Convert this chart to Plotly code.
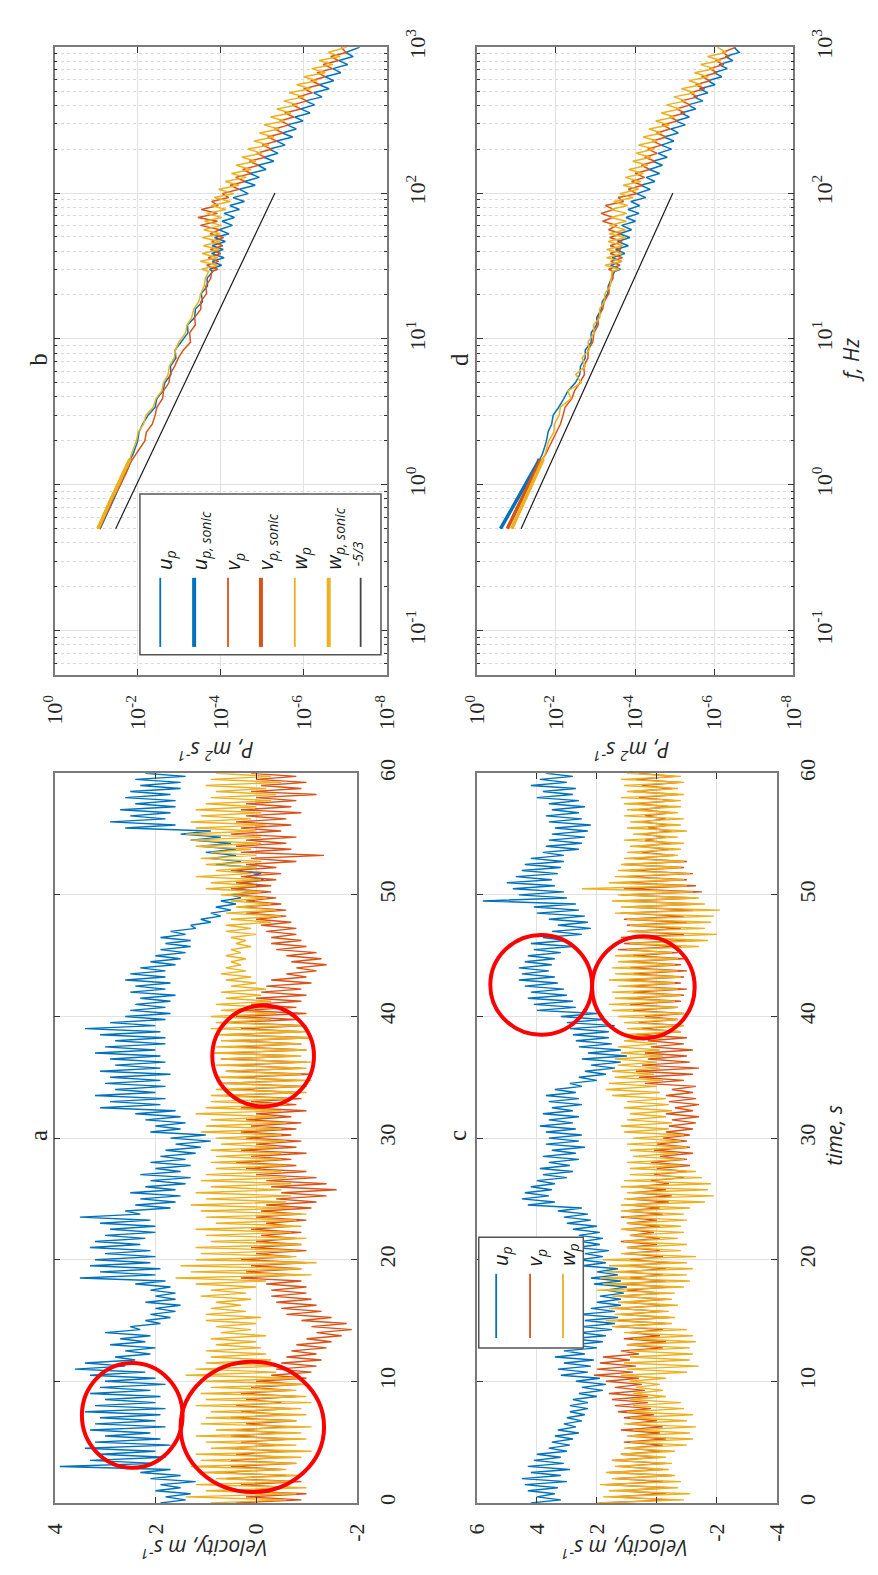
import math
import plotly.graph_objects as go

W, H = 878, 1575

# ---------------- colours ----------------
BLUE = "#0072BD"
ORANGE = "#D95319"
YELLOW = "#EDB120"

# ---------------- time series (panels a and c) ----------------
# time grid, s (upper / lower envelope read every 0.5 s)
T = [i * 0.5 for i in range(121)]

A_U_HI = [1.9, 1.8, 2.0, 1.9, 2.1, 2.3,
          3.9,
          3.3, 3.1, 3.4, 3.2, 3.0, 3.3, 3.2, 3.1, 3.4, 3.2, 3.0, 3.3, 3.1, 3.0,
          3.3, 3.6, 3.4,
          2.8, 2.6, 2.9, 2.7, 3.0,
          2.5, 2.2, 2.1, 2.0, 2.2, 2.0, 2.1, 2.4,
          3.5, 3.1, 3.3, 3.2,
          3.0, 3.3, 3.2, 3.0, 2.9, 3.1, 3.5,
          2.6, 2.4, 2.3, 2.5, 2.2, 2.1, 2.3, 2.0, 2.1,
          1.9, 1.8, 1.6, 1.7,
          2.1, 2.0, 2.2, 2.4,
          3.1, 2.9, 3.2, 2.8, 3.0, 2.9, 3.1, 2.8, 2.9, 3.2, 3.0, 2.8, 3.1, 3.4, 2.9, 2.6,
          2.5, 2.4, 2.3, 2.5, 2.4, 2.6, 2.5, 2.3,
          2.1, 2.0, 1.9, 1.8, 1.9, 1.7,
          1.3, 1.1, 0.9, 0.8, 0.7, 0.5,
          0.4, 0.3, 0.2, 0.4,
          0.8, 0.9, 1.0, 1.1, 1.3, 1.5,
          2.6, 2.9, 2.5, 2.7,
          2.4, 2.6, 2.5, 2.3, 2.4, 2.2]
A_U_LO = [1.4, 1.3, 1.5, 1.2, 1.5, 1.7,
          2.0,
          1.8, 2.0, 1.7, 1.9, 2.1, 1.8, 2.0, 1.9, 1.8, 2.0, 1.9, 2.1, 1.8, 2.0,
          2.2, 2.6, 2.4,
          2.1, 2.0, 2.2, 2.1, 2.3,
          1.9, 1.7, 1.6, 1.5, 1.6, 1.6, 1.7, 1.8,
          2.0, 1.9, 2.1, 2.0,
          2.1, 2.3, 2.2, 2.0, 2.0, 2.1, 2.3,
          1.7, 1.6, 1.5, 1.6, 1.4, 1.3, 1.5, 1.3, 1.4,
          1.2, 1.1, 0.9, 1.0,
          1.5, 1.4, 1.5, 1.6,
          1.9, 1.8, 2.0, 1.8, 1.9, 1.7, 1.9, 1.8, 1.9, 2.0, 1.8, 1.8, 1.9, 2.0, 1.8, 1.7,
          1.8, 1.7, 1.6, 1.8, 1.7, 1.8, 1.8, 1.6,
          1.5, 1.4, 1.3, 1.3, 1.4, 1.2,
          0.9, 0.7, 0.5, 0.4, 0.3, 0.1,
          -0.1, -0.15, -0.1, 0.0,
          0.3, 0.4, 0.4, 0.5, 0.7, 0.9,
          1.6, 1.8, 1.7, 1.6,
          1.6, 1.7, 1.5, 1.5, 1.4, 1.5]

A_V_HI = [0.4, 0.2, 0.5, 0.3, 0.6, 0.8, 0.5,
          0.5, 0.4, 0.6, 0.3, 0.5, 0.4, 0.2, 0.5, 0.3, 0.4, 0.2, 0.3, 0.1, 0.0,
          -0.3, -0.4, -0.5, -0.6,
          -0.7, -0.8, -1.0, -1.2, -1.1, -0.9,
          -0.6, -0.5, -0.4, -0.3, -0.3, -0.2,
          0.3, 0.2, 0.1, 0.3, 0.0, 0.1,
          0.0, -0.1, 0.1, -0.2, 0.0, -0.1,
          -0.2, -0.4, -0.5, -0.3, -0.2, 0.0,
          0.2, 0.4, 0.1, 0.3, 0.0, 0.2,
          0.3, 0.1, 0.2, 0.0, 0.3, 0.1,
          0.6, 0.5, 0.7, 0.4, 0.6, 0.5, 0.7, 0.6, 0.4, 0.5, 0.6, 0.3, 0.5, 0.4,
          0.3, 0.1, 0.0, -0.1, -0.2, -0.3,
          -0.6, -0.8, -0.7, -0.6,
          -0.4, -0.3, -0.3, -0.2, -0.1, 0.0,
          0.2, 0.3, 0.2, 0.4,
          0.5, 0.4, 0.3, 0.5, 0.2, 0.1,
          0.3, 0.4, 0.2, 0.5, 0.3, 0.4, 0.2, 0.3,
          0.2, 0.0, 0.1, -0.1, 0.0, 0.1]
A_V_LO = [-0.9, -1.0, -0.7, -0.9, -0.6, -0.5, -0.8,
          -0.5, -0.6, -0.4, -0.7, -0.5, -0.6, -0.8, -0.6, -0.7, -0.5, -0.8, -0.7, -0.9, -1.0,
          -1.1, -1.2, -1.3, -1.2,
          -1.4, -1.5, -1.7, -1.9, -1.8, -1.5,
          -1.3, -1.2, -1.1, -1.0, -1.0, -0.9,
          -0.8, -0.9, -1.0, -0.7, -1.0, -0.9,
          -0.8, -0.9, -0.7, -1.0, -0.9, -1.1,
          -1.2, -1.4, -1.6, -1.4, -1.2, -1.0,
          -0.8, -0.7, -1.0, -0.8, -0.9, -0.7,
          -0.8, -0.9, -0.7, -1.0, -0.8, -0.9,
          -0.9, -1.0, -0.8, -1.1, -0.9, -1.0, -0.8, -1.0, -0.9, -1.1, -0.9, -1.0, -0.8, -1.0,
          -0.8, -0.9, -1.0, -0.9, -1.1, -1.0,
          -1.2, -1.4, -1.3, -1.2,
          -1.0, -0.9, -0.8, -0.8, -0.7, -0.6,
          -0.6, -0.5, -0.4, -0.3,
          -0.3, -0.4, -0.5, -0.4, -0.8, -1.35,
          -0.7, -0.6, -0.8, -0.5, -0.7, -0.6, -0.9, -0.7,
          -0.8, -1.2, -0.9, -1.0, -0.8, -0.9]

A_W_HI = [0.9, 1.4, 1.0, 1.2, 0.8, 1.1, 1.3,
          1.1, 1.2, 0.9, 1.0, 1.2, 0.8, 1.1, 1.0, 0.9, 1.2, 1.0, 1.1, 0.9, 1.0,
          1.4, 1.2, 1.0, 0.9,
          1.0, 0.8, 0.9, 0.7, 0.8, 1.0,
          1.0, 0.9, 0.8, 1.1, 0.9, 1.2,
          1.6, 1.3, 1.5, 1.2,
          1.1, 1.2, 0.9, 1.0, 1.2, 0.8, 1.0, 1.1,
          1.3, 1.0, 1.2, 0.9, 1.1, 1.0, 0.8, 0.9,
          0.8, 0.9, 0.7, 0.8,
          1.1, 1.0, 0.9, 1.2, 1.0, 0.9,
          0.9, 0.8, 0.7, 0.8, 0.6, 0.8, 0.7, 0.9, 0.8, 0.7, 0.8, 0.9,
          0.8, 0.9, 0.7, 0.8, 0.6, 0.7, 0.5, 0.6,
          0.7, 0.6, 0.5, 0.6, 0.5, 0.4, 0.5, 0.6,
          0.6, 0.5, 0.6, 0.4, 0.5, 0.7,
          1.0, 0.9, 1.2, 0.8, 1.0, 1.1, 0.9, 1.2,
          1.3, 1.4, 1.2, 1.3, 1.1, 1.2,
          1.0, 0.9, 0.8, 1.0, 0.9, 0.8]
A_W_LO = [-0.6, -0.8, -1.0, -0.7, -0.9, -0.6, -0.8,
          -0.9, -1.1, -0.8, -1.0, -0.9, -1.1, -0.8, -1.0, -0.9, -1.1, -1.0, -0.8, -1.0, -0.9,
          -0.4, -0.5, -0.3, -0.2,
          -0.1, 0.0, -0.2, 0.1, 0.0, -0.1,
          0.2, 0.3, 0.1, 0.2, 0.0, -0.2,
          -1.1, -0.9, -1.2, -0.8,
          -0.8, -0.9, -1.0, -0.7, -0.9, -0.8, -1.0, -0.7,
          -0.6, -0.7, -0.5, -0.7, -0.6, -0.5, -0.6, -0.5,
          -0.5, -0.4, -0.6, -0.5,
          -0.5, -0.6, -0.4, -0.5, -0.6, -0.7,
          -1.0, -0.9, -1.1, -0.9, -1.0, -1.1, -0.9, -1.0, -0.9, -1.1, -1.0, -0.9,
          -0.3, -0.4, -0.2, -0.3, -0.1, -0.2, 0.0, 0.1,
          0.2, 0.3, 0.2, 0.3, 0.1, 0.2, 0.0, 0.1,
          -0.3, -0.5, -0.4, -0.3, -0.2, -0.1,
          0.0, -0.1, 0.1, 0.0, -0.1, 0.0, 0.1, -0.1,
          -0.1, 0.0, -0.2, 0.1, -0.1, 0.0,
          -0.3, -0.4, -0.2, -0.5, -0.3, -0.4]

C_U_HI = [4.2, 4.0, 4.3,
          4.4, 4.5, 4.2, 4.3, 4.1, 4.0,
          3.6, 3.5, 3.4, 3.3, 3.1, 3.0, 2.9, 2.9,
          2.8, 2.6, 2.5, 2.7,
          3.2, 3.3, 3.1, 3.4,
          3.1, 2.8, 2.9, 2.6, 2.5, 2.4, 2.6, 2.2,
          2.0, 1.9, 1.7, 2.1, 2.2, 2.0,
          2.5, 2.6, 2.4, 2.7, 2.5, 2.6,
          2.8, 3.0, 3.1, 3.3,
          4.3, 4.5, 4.4, 4.2,
          4.0, 3.8, 3.9, 3.6, 3.8, 3.5, 3.7, 3.6,
          3.7, 3.9, 3.6, 3.8, 3.5, 3.6, 3.7, 3.4,
          2.9, 2.6, 2.4, 2.2, 2.5, 2.3, 2.6, 2.7,
          2.8, 2.9, 3.0, 3.2,
          4.0, 4.1, 4.3, 4.2, 4.4, 4.6, 4.5, 4.6, 4.4, 4.3,
          4.1, 4.2, 3.8, 3.5, 3.3, 3.6,
          4.0, 4.1, 5.8, 4.6,
          4.8, 5.0, 4.7, 4.5, 4.4, 4.2,
          3.8, 3.7, 3.6, 3.5, 3.4, 3.6, 3.7, 3.5,
          3.6, 4.0, 3.8, 4.2, 3.9, 3.7]
C_U_LO = [3.2, 3.4, 3.3,
          3.0, 3.2, 2.9, 3.1, 3.2, 3.0,
          2.9, 2.8, 2.6, 2.7, 2.5, 2.4, 2.3, 2.3,
          2.0, 1.8, 1.7, 1.9,
          2.3, 2.2, 2.1, 2.4,
          2.0, 1.8, 1.7, 1.5, 1.4, 1.3, 1.4, 1.2,
          1.2, 1.1, 1.0, 1.2, 1.3, 1.3,
          1.7, 1.8, 1.6, 1.9, 1.8, 1.9,
          2.0, 2.2, 2.3, 2.5,
          3.4, 3.6, 3.5, 3.4,
          3.0, 2.8, 2.9, 2.6, 2.7, 2.4, 2.6, 2.5,
          2.7, 2.8, 2.6, 2.8, 2.5, 2.6, 2.7, 2.5,
          2.0, 1.7, 1.4, 1.2, 1.0, 1.2, 1.5, 1.6,
          1.6, 1.4, 1.8, 2.0,
          2.7, 2.8, 3.0, 3.1, 3.3, 3.4, 3.6, 3.5, 3.4, 3.2,
          2.8, 3.0, 2.5, 2.2, 2.3, 2.4,
          2.6, 2.7, 3.0, 3.1,
          3.4, 3.5, 3.3, 3.2, 3.1, 3.1,
          2.6, 2.5, 2.4, 2.3, 2.2, 2.5, 2.6, 2.4,
          2.6, 2.8, 2.7, 3.0, 2.8, 2.7]

C_V_HI = [1.9, 1.5, 1.2, 1.7, 1.4,
          1.6, 1.3, 1.5, 1.2,
          1.0, 1.1, 0.9, 1.2, 1.0, 1.1, 1.3, 1.4,
          1.5, 1.6, 1.4, 1.7,
          2.1, 2.0, 1.9, 1.8,
          1.2, 1.0, 1.1, 0.9,
          1.4, 1.3, 1.2, 1.4, 1.1, 1.3, 1.0, 1.2, 0.9, 1.1, 1.0, 0.9,
          1.1, 1.0, 1.2, 0.9, 1.1, 1.0, 1.2, 1.1,
          0.9, 1.0, 0.8, 0.7,
          0.2, 0.1, 0.0, 0.2, -0.1, 0.1, 0.0, -0.2,
          -0.3, -0.4, -0.5, -0.3, -0.6, -0.4, -0.3, -0.5,
          0.4, 0.6, 0.7, 0.5, 0.3, 0.4, 0.2, 0.3,
          0.7, 0.5, 0.6, 0.4,
          0.8, 0.9, 1.0, 0.8, 0.9, 1.1, 0.8, 0.9, 1.0, 0.8,
          1.3, 1.1, 1.2, 0.9, 1.0, 1.1,
          1.2, 1.0, 1.1, 1.2,
          1.1, 1.2, 1.0, 0.9, 1.1, 0.8,
          0.5, 0.6, 0.4, 0.5, 0.3, 0.5, 0.4, 0.6,
          0.7, 0.6, 0.8, 0.5, 0.7, 0.6]
C_V_LO = [-0.5, -0.3, -0.4, -0.2, -0.5,
          -0.2, -0.3, -0.1, -0.2,
          -0.2, -0.3, -0.1, -0.2, 0.0, 0.1, 0.2, 0.3,
          0.3, 0.4, 0.5, 0.6,
          0.8, 0.7, 0.9, 0.6,
          -0.2, -0.3, -0.1, -0.2,
          -0.3, -0.4, -0.2, -0.4, -0.3, -0.2, -0.4, -0.3, -0.2, -0.3, -0.4, -0.2,
          -0.1, 0.0, -0.1, 0.1, -0.1, 0.0, -0.2, -0.1,
          -0.4, -0.5, -0.3, -0.4,
          -0.9, -1.0, -1.1, -1.0, -1.2, -1.1, -1.0, -1.1,
          -1.2, -1.3, -1.4, -1.2, -1.4, -1.3, -1.2, -1.3,
          -0.9, -1.2, -1.4, -1.1, -1.0, -1.2, -0.9, -1.0,
          -0.8, -0.9, -0.7, -0.9,
          -0.7, -0.8, -0.9, -1.0, -0.8, -0.9, -1.0, -0.8, -0.9, -0.7,
          -0.8, -1.0, -0.9, -0.8, -1.0, -0.9,
          -1.2, -1.4, -1.3, -1.5,
          -1.3, -1.0, -1.2, -0.9, -1.0, -0.6,
          -0.4, -0.5, -0.3, -0.5, -0.4, -0.3, -0.5, -0.4,
          -0.6, -0.7, -0.5, -0.8, -0.6, -0.7]

C_W_HI = [2.0, 1.8, 1.6, 1.9, 1.5,
          1.7, 1.4, 1.5, 1.2,
          1.1, 0.9, 1.0, 0.8, 1.1, 0.9, 1.0, 0.8,
          0.9, 0.8, 0.7, 0.9,
          1.2, 1.0, 1.1, 0.9,
          0.9, 1.0, 0.8, 1.1,
          1.5, 1.7, 1.4, 1.6, 1.3, 1.5,
          2.0, 1.8, 1.9, 1.7, 1.6, 1.8,
          1.2, 1.0, 1.1, 0.9, 1.2, 1.0, 1.1, 1.2,
          1.2, 1.1, 1.0, 1.2, 1.1, 0.9,
          0.9, 1.0, 0.8, 0.9, 1.0, 0.8,
          1.1, 1.2, 1.0, 0.9, 1.1, 1.0,
          1.5, 1.7, 1.6, 1.4, 1.5, 1.3, 1.4, 1.2, 1.3, 1.1,
          1.2, 1.0, 1.1, 1.3,
          1.5, 1.6, 1.4, 1.5, 1.3, 1.6, 1.4, 1.5, 1.3, 1.4,
          1.0, 0.9, 0.8, 1.0, 0.9, 1.0,
          1.4, 1.2, 1.5, 1.3,
          2.5, 1.6, 1.4, 1.3, 1.2, 1.1,
          1.0, 0.9, 1.1, 0.8, 1.0, 0.9, 1.1, 1.0,
          1.1, 1.2, 1.0, 1.1, 1.2, 1.0]
C_W_LO = [-0.9, -1.1, -0.7, -0.8, -0.6,
          -0.4, -0.5, -0.3, -0.6,
          -1.0, -1.2, -1.1, -1.3, -1.0, -1.2, -0.9, -0.8,
          -0.3, -0.2, -0.1, -0.3,
          -1.0, -1.4, -1.1, -1.2,
          -1.1, -1.3, -1.2, -1.0,
          -0.5, -0.6, -0.4, -0.7, -0.5, -0.6,
          -0.9, -1.1, -1.0, -1.2, -1.0, -1.3,
          -0.8, -1.0, -0.7, -0.9, -0.8, -1.0, -0.9, -1.1,
          -1.6, -1.9, -1.7, -1.8, -1.5, -1.3,
          -0.8, -0.9, -0.7, -1.0, -0.8, -0.9,
          -0.4, -0.5, -0.3, -0.5, -0.4, -0.3,
          -0.1, 0.0, -0.2, 0.1, -0.1, 0.0, -0.2, -0.1, 0.0, -0.2,
          -0.8, -0.9, -0.7, -0.9,
          -0.7, -0.6, -0.8, -0.7, -0.6, -0.8, -0.7, -0.6, -0.7, -0.5,
          -1.4, -1.7, -2.0, -1.6, -1.8, -1.9,
          -2.1, -1.6, -1.4, -1.2,
          -1.0, -0.9, -1.1, -0.8, -0.9, -0.7,
          -0.8, -0.9, -0.7, -1.0, -0.8, -0.9, -0.7, -0.8,
          -0.8, -0.9, -0.7, -0.9, -0.8, -0.9]

# ---------------- spectra (panels b and d) ----------------
F_LOW = [0.5, 0.6, 0.7, 0.8, 0.9, 1.0, 1.2, 1.4, 1.6, 1.8, 2.0, 2.3, 2.6, 3.0, 3.4, 3.9,
         4.4, 5.0, 5.7, 6.5, 7.4, 8.4, 9.5, 11, 12.5, 14, 16, 18, 20.5, 23, 26, 29]
F_HIGH = [30, 32, 34, 36, 38.5, 41, 43.5, 46.5, 49.5, 52.5, 56, 60, 64, 68, 72.5, 77, 82,
          87.5, 93, 99, 106, 113, 120, 128, 136, 145, 155, 165, 176, 187, 200, 213, 227,
          242, 258, 275, 293, 312, 332, 354, 377, 402, 428, 456, 486, 518, 552, 588, 627,
          668, 712, 759, 809, 862, 919, 1000]
F_SONIC = [0.5, 0.6, 0.7, 0.8, 0.9, 1.0, 1.2, 1.4, 1.5]

# log10 of P (m^2 s^-1)
B_U_LOW = [-1.05, -1.16, -1.30, -1.36, -1.47, -1.53, -1.69, -1.76, -1.88, -1.94, -2.0, -2.03,
           -2.12, -2.25, -2.42, -2.46, -2.61, -2.65, -2.8, -2.79, -2.92, -2.9, -3.05, -3.21,
           -3.2, -3.37, -3.39, -3.56, -3.53, -3.68, -3.67, -3.81]
B_U_HIGH = [-3.73, -4.02, -3.79, -4.08, -3.78, -4.06, -3.79, -4.11, -3.85, -4.2,
            -3.96, -4.28, -4.03, -4.33, -4.08, -4.45, -4.22, -4.57, -4.3, -4.66,
            -4.45, -4.83, -4.57, -4.93, -4.7, -5.09, -4.9, -5.28, -5.04, -5.38,
            -5.17, -5.55, -5.35, -5.73, -5.48, -5.82, -5.6, -5.98, -5.78, -6.15,
            -5.92, -6.26, -6.04, -6.44, -6.24, -6.61, -6.37, -6.72, -6.51, -6.89,
            -6.7, -7.06, -6.85, -7.19, -7.01, -7.35]
B_V_LOW = [-1.08, -1.2, -1.33, -1.4, -1.5, -1.58, -1.72, -1.81, -1.94, -2.05, -2.17, -2.21,
           -2.35, -2.42, -2.46, -2.6, -2.62, -2.75, -2.78, -2.89, -2.98, -3.1, -3.27, -3.25,
           -3.39, -3.37, -3.52, -3.52, -3.66, -3.64, -3.76, -3.78]
B_V_HIGH = [-3.93, -3.66, -3.95, -3.7, -4.0, -3.75, -4.05, -3.78, -4.07, -3.74,
            -3.98, -3.51, -3.92, -3.45, -3.92, -3.53, -3.94, -3.78, -4.19, -4.04,
            -4.44, -4.23, -4.59, -4.36, -4.73, -4.53, -4.91, -4.69, -5.07, -4.87,
            -5.23, -5.0, -5.35, -5.13, -5.5, -5.29, -5.65, -5.42, -5.76, -5.54,
            -5.93, -5.72, -6.08, -5.86, -6.21, -6.0, -6.39, -6.17, -6.52, -6.32,
            -6.69, -6.47, -6.84, -6.65, -7.02, -6.9]
B_W_LOW = [-1.03, -1.18, -1.26, -1.37, -1.45, -1.54, -1.65, -1.78, -1.84, -1.91, -1.97, -2.01,
           -2.14, -2.2, -2.37, -2.44, -2.58, -2.62, -2.73, -2.76, -2.88, -2.91, -2.99, -3.15,
           -3.19, -3.3, -3.35, -3.47, -3.52, -3.6, -3.63, -3.71]
B_W_HIGH = [-3.54, -3.93, -3.51, -3.93, -3.55, -3.97, -3.58, -3.98, -3.55, -3.98,
            -3.59, -4.02, -3.61, -4.02, -3.66, -4.13, -3.77, -4.23, -3.84, -4.31,
            -3.95, -4.44, -4.11, -4.61, -4.26, -4.73, -4.37, -4.85, -4.51, -4.99,
            -4.65, -5.16, -4.8, -5.28, -4.93, -5.41, -5.04, -5.54, -5.2, -5.69,
            -5.35, -5.85, -5.52, -6.01, -5.65, -6.16, -5.83, -6.32, -6.0, -6.52,
            -6.19, -6.7, -6.37, -6.88, -6.59, -7.04]
B_US = [-1.07, -1.19, -1.3, -1.4, -1.48, -1.56, -1.68, -1.79, -1.84]
B_VS = [-1.06, -1.17, -1.28, -1.37, -1.46, -1.53, -1.66, -1.77, -1.83]
B_WS = [-1.04, -1.16, -1.27, -1.36, -1.45, -1.52, -1.65, -1.76, -1.82]

D_U_LOW = [-0.6, -0.76, -0.9, -1.02, -1.13, -1.23, -1.39, -1.53, -1.65, -1.71, -1.76, -1.8,
           -1.89, -1.93, -2.07, -2.2, -2.3, -2.49, -2.6, -2.62, -2.74, -2.74, -2.89, -2.89,
           -3.03, -3.03, -3.15, -3.17, -3.31, -3.32, -3.41, -3.48]
D_U_HIGH = [-3.63, -3.38, -3.66, -3.42, -3.74, -3.51, -3.83, -3.56, -3.87, -3.6,
            -3.91, -3.66, -4.01, -3.77, -4.1, -3.82, -4.12, -3.89, -4.27, -4.04,
            -4.38, -4.14, -4.5, -4.28, -4.62, -4.36, -4.69, -4.45, -4.81, -4.58,
            -4.92, -4.66, -4.98, -4.73, -5.09, -4.9, -5.27, -5.02, -5.37, -5.15,
            -5.53, -5.34, -5.71, -5.48, -5.84, -5.63, -6.02, -5.84, -6.19, -5.99,
            -6.33, -6.12, -6.47, -6.28, -6.63, -6.5]
D_V_LOW = [-0.78, -0.92, -1.04, -1.15, -1.24, -1.32, -1.46, -1.58, -1.73, -1.82, -1.92, -2.02,
           -2.11, -2.18, -2.23, -2.4, -2.47, -2.6, -2.72, -2.7, -2.81, -2.81, -2.93, -2.96,
           -3.07, -3.06, -3.18, -3.22, -3.34, -3.34, -3.44, -3.44]
D_V_HIGH = [-3.33, -3.62, -3.38, -3.68, -3.37, -3.64, -3.37, -3.67, -3.36, -3.65,
            -3.33, -3.54, -3.18, -3.44, -3.14, -3.47, -3.25, -3.71, -3.57, -4.04,
            -3.83, -4.19, -3.91, -4.24, -4.0, -4.37, -4.16, -4.51, -4.24, -4.56,
            -4.32, -4.67, -4.44, -4.79, -4.54, -4.89, -4.68, -5.07, -4.88, -5.26,
            -5.04, -5.39, -5.17, -5.58, -5.39, -5.76, -5.53, -5.89, -5.68, -6.07,
            -5.88, -6.24, -6.03, -6.38, -6.21, -6.55]
D_W_LOW = [-0.9, -1.03, -1.14, -1.24, -1.32, -1.4, -1.53, -1.64, -1.72, -1.77, -1.82, -1.95,
           -1.96, -2.08, -2.11, -2.38, -2.3, -2.64, -2.5, -2.74, -2.66, -2.84, -2.81, -2.96,
           -2.95, -3.11, -3.1, -3.22, -3.24, -3.37, -3.39, -3.42]
D_W_HIGH = [-3.6, -3.24, -3.67, -3.28, -3.68, -3.28, -3.7, -3.32, -3.77, -3.35,
            -3.76, -3.35, -3.78, -3.39, -3.79, -3.38, -3.81, -3.46, -3.95, -3.61,
            -4.09, -3.7, -4.14, -3.75, -4.21, -3.84, -4.32, -3.94, -4.4, -4.03,
            -4.49, -4.09, -4.56, -4.2, -4.68, -4.35, -4.86, -4.52, -5.0, -4.66,
            -5.14, -4.79, -5.29, -4.98, -5.51, -5.17, -5.68, -5.36, -5.85, -5.5,
            -6.0, -5.66, -6.17, -5.83, -6.3, -6.08]
D_US = [-0.6, -0.76, -0.9, -1.02, -1.13, -1.23, -1.39, -1.53, -1.58]
D_VS = [-0.77, -0.91, -1.03, -1.14, -1.23, -1.31, -1.45, -1.57, -1.62]
D_WS = [-0.88, -1.01, -1.12, -1.22, -1.31, -1.39, -1.52, -1.63, -1.68]

# -5/3 reference lines
SLOPE_F = [0.5, 100]
SLOPE_B = [0.034, 4.95e-6]
SLOPE_D = [0.076, 1.11e-5]

# ---------------- tick labels ----------------
P_TICKS = [1, 1e-2, 1e-4, 1e-6, 1e-8]
P_TEXT = ["10<sup>0</sup>", "10<sup>-2</sup>", "10<sup>-4</sup>", "10<sup>-6</sup>", "10<sup>-8</sup>"]
F_TICKS = [0.1, 1, 10, 100, 1000]
F_TEXT = ["10<sup>-1</sup>", "10<sup>0</sup>", "10<sup>1</sup>", "10<sup>2</sup>", "10<sup>3</sup>"]
T_TICKS = [0, 10, 20, 30, 40, 50, 60]
VA_TICKS = [4, 2, 0, -2]
VC_TICKS = [6, 4, 2, 0, -2, -4]


def px(x):
    return x / W


def py(y):
    return 1 - y / H


fig = go.Figure()


def add_ts(hi, lo, color, xa, ya):
    # each 0.5 s slot drawn as one stroke between the read upper and lower envelope
    xs, ys = [], []
    for t, h, l in zip(T, hi, lo):
        xs += [h, l]
        ys += [t, t + 0.25]
    fig.add_trace(go.Scatter(x=xs, y=ys, mode="lines", line=dict(color=color, width=1.4),
                             xaxis=xa, yaxis=ya, showlegend=False, hoverinfo="skip"))


def add_spec(freqs, logp, color, width, xa, ya):
    fig.add_trace(go.Scatter(x=[10 ** v for v in logp], y=freqs, mode="lines",
                             line=dict(color=color, width=width), xaxis=xa, yaxis=ya,
                             showlegend=False, hoverinfo="skip"))


# panel b  (x, y)
add_spec(F_LOW + F_HIGH, B_U_LOW + B_U_HIGH, BLUE, 1.5, "x", "y")
add_spec(F_SONIC, B_US, BLUE, 3.5, "x", "y")
add_spec(F_LOW + F_HIGH, B_V_LOW + B_V_HIGH, ORANGE, 1.5, "x", "y")
add_spec(F_SONIC, B_VS, ORANGE, 3.5, "x", "y")
add_spec(F_LOW + F_HIGH, B_W_LOW + B_W_HIGH, YELLOW, 1.5, "x", "y")
add_spec(F_SONIC, B_WS, YELLOW, 3.5, "x", "y")
fig.add_trace(go.Scatter(x=SLOPE_B, y=SLOPE_F, mode="lines", line=dict(color="#1a1a1a", width=1.2),
                         xaxis="x", yaxis="y", showlegend=False, hoverinfo="skip"))
# panel d  (x2, y2)
add_spec(F_LOW + F_HIGH, D_U_LOW + D_U_HIGH, BLUE, 1.5, "x2", "y2")
add_spec(F_SONIC, D_US, BLUE, 3.5, "x2", "y2")
add_spec(F_LOW + F_HIGH, D_V_LOW + D_V_HIGH, ORANGE, 1.5, "x2", "y2")
add_spec(F_SONIC, D_VS, ORANGE, 3.5, "x2", "y2")
add_spec(F_LOW + F_HIGH, D_W_LOW + D_W_HIGH, YELLOW, 1.5, "x2", "y2")
add_spec(F_SONIC, D_WS, YELLOW, 3.5, "x2", "y2")
fig.add_trace(go.Scatter(x=SLOPE_D, y=SLOPE_F, mode="lines", line=dict(color="#1a1a1a", width=1.2),
                         xaxis="x2", yaxis="y2", showlegend=False, hoverinfo="skip"))
# panel a  (x3, y3)
add_ts(A_U_HI, A_U_LO, BLUE, "x3", "y3")
add_ts(A_V_HI, A_V_LO, ORANGE, "x3", "y3")
add_ts(A_W_HI, A_W_LO, YELLOW, "x3", "y3")
# panel c  (x4, y4)
add_ts(C_U_HI, C_U_LO, BLUE, "x4", "y4")
add_ts(C_V_HI, C_V_LO, ORANGE, "x4", "y4")
add_ts(C_W_HI, C_W_LO, YELLOW, "x4", "y4")

# ---------------- axes ----------------
TICK_FONT = dict(family="Liberation Serif", size=22, color="#262626")
COMMON = dict(showline=True, linecolor="#7a7a7a", linewidth=1.5, mirror="allticks",
              ticks="inside", ticklen=6, tickcolor="#333333", tickwidth=1,
              showgrid=True, gridcolor="#e2e2e2", gridwidth=1, zeroline=False,
              tickangle=-90, tickfont=TICK_FONT, ticklabelstandoff=10, fixedrange=True)
MINOR_F = [m * 10 ** e for e in range(-2, 3) for m in range(2, 10) if 0.05 <= m * 10 ** e <= 1000]


def p_axis(x0, x1, anchor):
    return dict(domain=[px(x0), px(x1)], anchor=anchor, type="log", range=[0, -8],
                tickmode="array", tickvals=P_TICKS, ticktext=P_TEXT, side="bottom", **COMMON)


def f_axis(y0, y1, anchor):
    return dict(domain=[py(y1), py(y0)], anchor=anchor, type="log", range=[math.log10(0.05), 3],
                tickmode="array", tickvals=F_TICKS, ticktext=F_TEXT, side="right",
                minor=dict(tickmode="array", tickvals=MINOR_F, ticks="inside", ticklen=3,
                           tickcolor="#333333", showgrid=True, gridcolor="#d8d8d8",
                           griddash="dot", gridwidth=1),
                **COMMON)


def v_axis(x0, x1, anchor, rng, vals):
    return dict(domain=[px(x0), px(x1)], anchor=anchor, range=rng, tickmode="array",
                tickvals=vals, ticktext=[str(v) for v in vals], side="bottom", **COMMON)


def t_axis(y0, y1, anchor):
    return dict(domain=[py(y1), py(y0)], anchor=anchor, range=[0, 60], tickmode="array",
                tickvals=T_TICKS, ticktext=[str(v) for v in T_TICKS], side="right", **COMMON)


TOP_Y0, TOP_Y1 = 29.5, 665
BOT_Y0, BOT_Y1 = 765, 1504

layout = dict(
    width=W, height=H, autosize=False,
    margin=dict(l=0, r=0, t=0, b=0),
    paper_bgcolor="white", plot_bgcolor="white",
    xaxis=p_axis(40, 383, "y"),
    yaxis=f_axis(TOP_Y0, TOP_Y1, "x"),
    xaxis2=p_axis(476, 803, "y2"),
    yaxis2=f_axis(TOP_Y0, TOP_Y1, "x2"),
    xaxis3=v_axis(40, 352, "y3", [4, -2], VA_TICKS),
    yaxis3=t_axis(BOT_Y0, BOT_Y1, "x3"),
    xaxis4=v_axis(476, 786, "y4", [6, -4], VC_TICKS),
    yaxis4=t_axis(BOT_Y0, BOT_Y1, "x4"),
)
fig.update_layout(**layout)

# ---------------- text ----------------
ann = []


def text(t, x, y, angle, size, family, xanchor="center", yanchor="middle", color="#262626"):
    ann.append(dict(text=t, x=px(x), y=py(y), xref="paper", yref="paper", showarrow=False,
                    textangle=angle, xanchor=xanchor, yanchor=yanchor,
                    font=dict(size=size, family=family, color=color)))


SERIF = "Liberation Serif"
SANS = "Open Sans"
text("a", 23, 1132, -90, 25, SERIF)
text("b", 23, 346, -90, 25, SERIF)
text("c", 456, 1132, -90, 25, SERIF)
text("d", 458, 346, -90, 25, SERIF)
text("<i>Velocity, m s<sup>-1</sup></i>", 194, 1551, 180, 21, SANS)
text("<i>Velocity, m s<sup>-1</sup></i>", 628, 1551, 180, 21, SANS)
text("<i>P, m<sup>2</sup> s<sup>-1</sup></i>", 206, 743, 180, 21, SANS)
text("<i>P, m<sup>2</sup> s<sup>-1</sup></i>", 636, 743, 180, 21, SANS)
text("<i>time, s</i>", 845, 1132, -90, 21, SANS)
text("<i>f, Hz</i>", 862, 346, -90, 21, SANS)

# ---------------- legends (drawn rotated like the rest of the figure) ----------------
shapes = []
shapes.append(dict(type="rect", xref="paper", yref="paper", x0=px(128), x1=px(377),
                   y0=py(645), y1=py(482), line=dict(color="#555555", width=1.5),
                   fillcolor="white", layer="above"))
LEG_B = [("u<sub>p</sub>", BLUE, 1.8), ("u<sub>p, sonic</sub>", BLUE, 4),
         ("v<sub>p</sub>", ORANGE, 1.8), ("v<sub>p, sonic</sub>", ORANGE, 4),
         ("w<sub>p</sub>", YELLOW, 1.8), ("w<sub>p, sonic</sub>", YELLOW, 4)]
LEG_B_X = [149, 184, 219, 253, 288, 323, 356]
for (lab, col, wdt), lx in zip(LEG_B, LEG_B_X):
    shapes.append(dict(type="line", xref="paper", yref="paper", x0=px(lx), x1=px(lx),
                       y0=py(637), y1=py(567), line=dict(color=col, width=wdt), layer="above"))
    text("<i>" + lab + "</i>", lx + 6, 561, -90, 20, SANS, yanchor="bottom", color="#1a1a1a")
shapes.append(dict(type="line", xref="paper", yref="paper", x0=px(356), x1=px(356),
                   y0=py(637), y1=py(567), line=dict(color="#444444", width=1.8), layer="above"))
text("<i>-5/3</i>", 353, 557, -90, 14, SANS, yanchor="bottom", color="#1a1a1a")

shapes.append(dict(type="rect", xref="paper", yref="paper", x0=px(478), x1=px(586),
                   y0=py(1347), y1=py(1235), line=dict(color="#555555", width=1.5),
                   fillcolor="white", layer="above"))
LEG_C = [("u<sub>p</sub>", BLUE), ("v<sub>p</sub>", ORANGE), ("w<sub>p</sub>", YELLOW)]
LEG_C_X = [496, 531, 565]
for (lab, col), lx in zip(LEG_C, LEG_C_X):
    shapes.append(dict(type="line", xref="paper", yref="paper", x0=px(lx), x1=px(lx),
                       y0=py(1337), y1=py(1272), line=dict(color=col, width=1.8), layer="above"))
    text("<i>" + lab + "</i>", lx + 6, 1266, -90, 20, SANS, yanchor="bottom", color="#1a1a1a")

# ---------------- red highlight circles (in data coordinates) ----------------
CIRCLES = [
    ("x3", "y3", 3.46, 1.46, 2.9, 11.5),
    ("x3", "y3", 1.5, -1.35, 0.9, 11.6),
    ("x3", "y3", 0.87, -1.15, 32.6, 40.9),
    ("x4", "y4", 5.55, 2.16, 38.5, 46.7),
    ("x4", "y4", 2.16, -1.26, 38.2, 46.6),
]
for xr, yr, xa, xb, ya, yb in CIRCLES:
    shapes.append(dict(type="circle", xref=xr, yref=yr, x0=xa, x1=xb, y0=ya, y1=yb,
                       line=dict(color="#ff0000", width=4), layer="above"))

fig.update_layout(annotations=ann, shapes=shapes)

fig.write_html("out.html")
